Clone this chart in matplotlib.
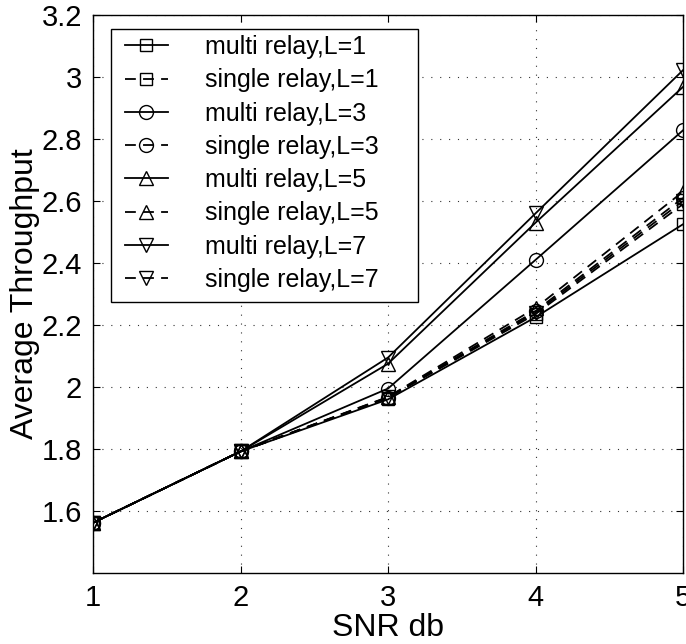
import matplotlib
matplotlib.use("Agg")
import matplotlib.pyplot as plt
from matplotlib.patches import Rectangle

plt.rcParams['font.family'] = ['Liberation Sans', 'DejaVu Sans']

snr = [1, 2, 3, 4, 5]
multi_L1 = [1.562, 1.792, 1.960, 2.225, 2.525]
single_L1 = [1.562, 1.792, 1.965, 2.235, 2.590]
multi_L3 = [1.562, 1.792, 1.995, 2.410, 2.828]
single_L3 = [1.562, 1.792, 1.966, 2.245, 2.610]
multi_L5 = [1.562, 1.792, 2.075, 2.530, 2.968]
single_L5 = [1.562, 1.792, 1.968, 2.255, 2.630]
multi_L7 = [1.562, 1.792, 2.095, 2.560, 3.022]
single_L7 = [1.562, 1.792, 1.967, 2.240, 2.600]

series = [
    ("multi relay,L=1", multi_L1, '-', 's'),
    ("single relay,L=1", single_L1, '--', 's'),
    ("multi relay,L=3", multi_L3, '-', 'o'),
    ("single relay,L=3", single_L3, '--', 'o'),
    ("multi relay,L=5", multi_L5, '-', '^'),
    ("single relay,L=5", single_L5, '--', '^'),
    ("multi relay,L=7", multi_L7, '-', 'v'),
    ("single relay,L=7", single_L7, '--', 'v'),
]

yticks = [1.6, 1.8, 2.0, 2.2, 2.4, 2.6, 2.8, 3.0, 3.2]
yticklabels = ["1.6", "1.8", "2", "2.2", "2.4", "2.6", "2.8", "3", "3.2"]

msize = {'s': 8, 'o': 10, '^': 10, 'v': 10}

fig = plt.figure(figsize=(6.86, 6.44), dpi=100)
ax = fig.add_axes([93/686, 1-573/644, (683-93)/686, (573-15)/644])

for label, vals, ls, mk in series:
    kw = dict(color='black', linewidth=1.3, marker=mk, markersize=msize[mk],
              markerfacecolor='none', markeredgecolor='black', markeredgewidth=1.0,
              label=label)
    if ls == '--':
        ax.plot(snr, vals, linestyle=(0, (6, 4)), **kw)
    else:
        ax.plot(snr, vals, linestyle='-', **kw)

ax.set_xlim(1, 5)
ax.set_ylim(1.4, 3.2)
ax.set_xticks(snr)
ax.set_xticklabels([str(v) for v in snr])
ax.set_yticks(yticks)
ax.set_yticklabels(yticklabels)
ax.tick_params(direction='in', length=5, width=0.8, labelsize=21, pad=8,
               top=True, right=True)
ax.grid(True, linestyle=(0, (1, 7)), color='#333333', linewidth=0.8)
for s in ax.spines.values():
    s.set_linewidth(1.0)

ax.set_xlabel("SNR db", fontsize=23, labelpad=1)
ax.set_ylabel("Average Throughput", fontsize=23, labelpad=1)

# legend frame (white box) drawn as a patch in axes coordinates
box = Rectangle((0.0305, 0.4857), 0.5203, 0.4893, transform=ax.transAxes,
                facecolor='white', edgecolor='black', linewidth=1.0, zorder=4,
                clip_on=False)
ax.add_patch(box)

leg = ax.legend(loc='upper left', bbox_to_anchor=(0.0542, 0.964), borderaxespad=0,
                fontsize=18, handlelength=1.72, handletextpad=1.5,
                labelspacing=0.37, borderpad=0.0, frameon=False)
leg.set_zorder(5)

fig.savefig("out.png", dpi=100)
